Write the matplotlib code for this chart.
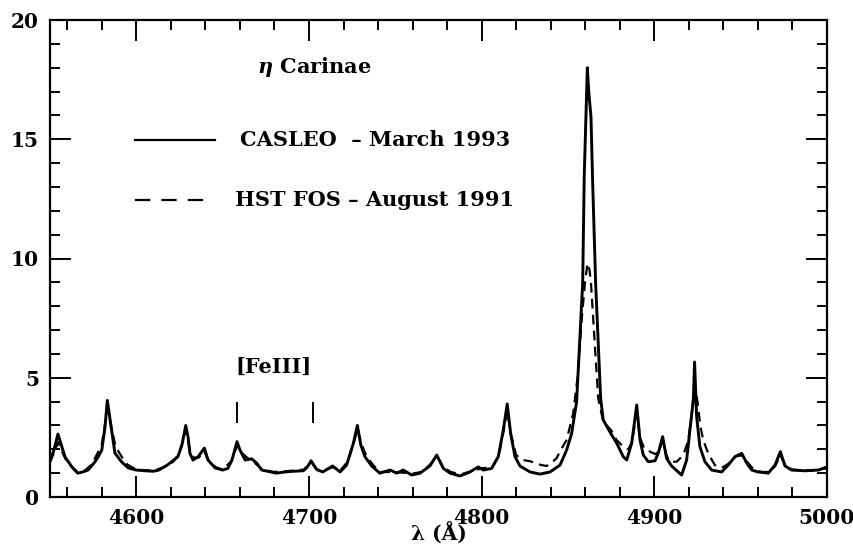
import numpy as np
import matplotlib
matplotlib.use("Agg")
import matplotlib.pyplot as plt
from matplotlib.ticker import MultipleLocator

plt.rcParams.update({'font.family': 'DejaVu Serif', 'font.weight': 'bold',
                     'font.size': 15, 'mathtext.fontset': 'dejavuserif',
                     'lines.scale_dashes': False})

# CASLEO - March 1993 (solid)
wl_casleo = [4550, 4552, 4554.6, 4556.5, 4558.7, 4562.7, 4566, 4569, 4572, 4576,
             4578, 4580, 4581.8, 4583.2, 4584.5, 4585.7, 4587.6, 4591.5, 4595.3, 4600,
             4605, 4610, 4613, 4618, 4624, 4626.5, 4628.6, 4630, 4631, 4632.8,
             4635.7, 4639.4, 4641.5, 4645.6, 4650, 4653, 4655.4, 4658.3, 4660, 4663,
             4666.8, 4669.7, 4672.6, 4676, 4681, 4686, 4691, 4696.7, 4699, 4701.2,
             4704.4, 4708, 4713.7, 4718, 4721.8, 4725.7, 4728, 4730, 4732.4, 4736.3,
             4741, 4747, 4750.8, 4754.6, 4759.5, 4764.3, 4770, 4774, 4777.8, 4781.7,
             4787.5, 4793.2, 4798, 4801, 4805.8, 4809.6, 4812.5, 4814.8, 4816.8, 4819.3,
             4822.2, 4828, 4833.8, 4839.6, 4845.4, 4849.2, 4852.1, 4855, 4858.5, 4859.4,
             4860.4, 4861.2, 4862, 4863.3, 4864.3, 4866, 4868.9, 4870.4, 4872.4, 4875.3,
             4878.2, 4882, 4884, 4886.9, 4889.8, 4891.7, 4893.6, 4896.5, 4900.4, 4902.3,
             4904.8, 4907.1, 4910, 4915.8, 4918.7, 4920.6, 4922.6, 4923.3, 4924.5, 4926.4,
             4929.3, 4933.2, 4939, 4942.8, 4946.7, 4950.6, 4953.5, 4956.4, 4960.2, 4966,
             4969.9, 4973, 4975.7, 4979.5, 4987.3, 4995, 5000]
fl_casleo = [1.55, 1.9, 2.64, 2.2, 1.68, 1.26, 1.0, 1.05, 1.13, 1.47,
             1.7, 1.97, 2.9, 4.05, 3.4, 2.8, 1.84, 1.47, 1.22, 1.13,
             1.1, 1.08, 1.13, 1.34, 1.68, 2.2, 3.0, 2.5, 1.84, 1.55,
             1.68, 2.05, 1.55, 1.22, 1.13, 1.2, 1.55, 2.32, 1.97, 1.55,
             1.6, 1.42, 1.13, 1.08, 1.0, 1.05, 1.08, 1.1, 1.25, 1.52,
             1.15, 1.05, 1.3, 1.05, 1.34, 2.25, 3.0, 2.18, 1.69, 1.3,
             1.0, 1.13, 1.0, 1.13, 0.92, 1.0, 1.3, 1.76, 1.2, 1.0,
             0.88, 1.05, 1.26, 1.13, 1.2, 1.69, 2.8, 3.9, 2.66, 1.69,
             1.3, 1.05, 0.96, 1.05, 1.34, 1.97, 2.66, 4.0, 8.97, 13.43,
             15.95, 18.0, 17.0, 15.95, 13.15, 8.97, 4.14, 3.23, 2.97, 2.6,
             2.26, 1.69, 1.55, 2.26, 3.86, 2.39, 1.76, 1.48, 1.52, 1.84,
             2.53, 1.62, 1.3, 0.92, 1.55, 2.8, 4.07, 5.66, 3.37, 2.11,
             1.48, 1.13, 1.05, 1.34, 1.69, 1.83, 1.42, 1.13, 1.05, 1.0,
             1.34, 1.9, 1.3, 1.13, 1.1, 1.13, 1.26]

# HST FOS - August 1991 (dashed)
wl_fos = [4550, 4552, 4554.8, 4557, 4560, 4565, 4570, 4574, 4577, 4580,
          4583.3, 4585, 4588, 4591.5, 4595, 4600, 4610, 4616, 4621.4, 4625,
          4628.5, 4631, 4633, 4636, 4639.4, 4642, 4646, 4650, 4655, 4658.3,
          4661, 4665, 4670, 4673, 4680, 4690, 4697, 4701.2, 4705, 4708,
          4713.7, 4718, 4722, 4725.7, 4728, 4730.5, 4733, 4737, 4741, 4750,
          4760, 4765, 4770, 4774, 4778, 4782, 4788, 4795, 4800, 4806,
          4810, 4812.5, 4814.8, 4817, 4820, 4824, 4828, 4834, 4837.6, 4840,
          4843.4, 4846, 4849.2, 4853, 4855.5, 4858, 4859.8, 4861.3, 4862.5, 4863.3,
          4865, 4867.5, 4870, 4872.4, 4875, 4878, 4882, 4885, 4887, 4889.8,
          4891.7, 4894, 4897.5, 4900.5, 4902.5, 4904.8, 4907, 4909, 4913, 4916.8,
          4919.7, 4921.5, 4923.3, 4925, 4926.6, 4928.3, 4931.2, 4935, 4939, 4943,
          4947, 4950.6, 4954, 4957, 4962, 4967, 4970, 4973, 4976, 4980,
          4990, 5000]
fl_fos = [1.45, 1.8, 2.3, 1.9, 1.45, 1.1, 1.1, 1.35, 1.76, 2.2,
          3.7, 3.1, 2.1, 1.69, 1.35, 1.15, 1.1, 1.25, 1.48, 1.85,
          2.8, 2.0, 1.65, 1.65, 1.9, 1.5, 1.25, 1.15, 1.5, 2.15,
          1.85, 1.6, 1.35, 1.15, 1.05, 1.1, 1.15, 1.45, 1.15, 1.1,
          1.25, 1.1, 1.45, 2.2, 2.85, 2.2, 1.75, 1.35, 1.05, 1.05,
          0.98, 1.05, 1.35, 1.7, 1.25, 1.05, 0.95, 1.1, 1.2, 1.25,
          1.75, 2.7, 3.6, 2.6, 1.75, 1.55, 1.5, 1.35, 1.3, 1.4,
          1.63, 2.0, 2.39, 3.5, 5.0, 7.5, 8.97, 9.8, 9.5, 8.97,
          7.0, 4.14, 3.3, 3.0, 2.8, 2.4, 2.11, 2.0, 2.3, 3.5,
          2.5, 2.05, 1.9, 1.8, 1.9, 2.35, 1.75, 1.48, 1.48, 1.76,
          2.39, 3.4, 4.7, 4.0, 3.0, 2.39, 1.83, 1.34, 1.22, 1.4,
          1.7, 1.75, 1.45, 1.2, 1.05, 1.05, 1.3, 1.75, 1.3, 1.15,
          1.1, 1.2]

# [FeIII] line markers
fe3_wl = [4658.5, 4702.5]
fe3_lo, fe3_hi = 3.1, 4.0

fig = plt.figure(figsize=(8.54, 5.5), dpi=100)
ax = fig.add_axes([50/854, 53/550, 777/854, 477/550])

ax.plot(wl_casleo, fl_casleo, color='black', lw=2.1, solid_joinstyle='round')
ax.plot(wl_fos, fl_fos, color='black', lw=1.6, dashes=(7, 4.5))

ax.vlines(fe3_wl, fe3_lo, fe3_hi, color='black', lw=1.4)
ax.text(4679.5, 5.45, '[FeIII]', ha='center', va='center', fontsize=15)

# legend drawn by hand, like the original
ax.plot([0.109, 0.212], [0.748, 0.748], color='black', lw=1.6, transform=ax.transAxes)
ax.plot([0.109, 0.206], [0.623, 0.623], color='black', lw=1.6, dashes=(11, 8),
        transform=ax.transAxes)
ax.text(0.245, 0.748, 'CASLEO  \u2013 March 1993', transform=ax.transAxes,
        va='center', ha='left')
ax.text(0.238, 0.623, 'HST FOS \u2013 August 1991', transform=ax.transAxes,
        va='center', ha='left')
ax.text(0.266, 0.902, r'$\eta$ Carinae', transform=ax.transAxes,
        va='center', ha='left')

ax.set_xlim(4550, 5000)
ax.set_ylim(0, 20)
ax.xaxis.set_major_locator(MultipleLocator(100))
ax.xaxis.set_minor_locator(MultipleLocator(20))
ax.yaxis.set_major_locator(MultipleLocator(5))
ax.yaxis.set_minor_locator(MultipleLocator(1))
ax.tick_params(which='both', direction='in', top=True, right=True, width=1.4)
ax.tick_params(which='major', length=15, pad=8, labelsize=14.5)
ax.tick_params(which='minor', length=7.5)
for spine in ax.spines.values():
    spine.set_linewidth(1.6)

ax.set_xlabel('\u03bb (\u00c5)', labelpad=-4, fontsize=14.5, fontweight='bold')

plt.savefig('out.png', dpi=100, facecolor='white')
